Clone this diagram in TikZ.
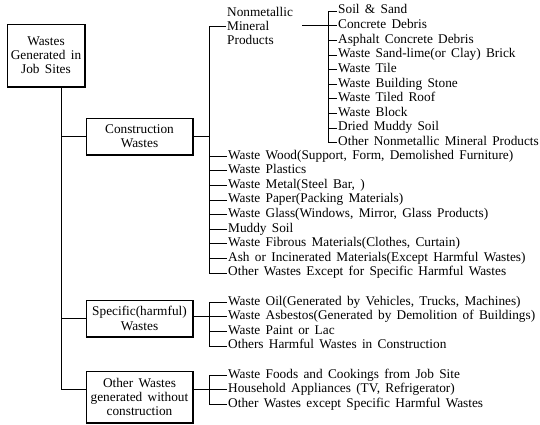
\documentclass[tikz,border=0pt]{standalone}
\usepackage{fontspec}
\setmainfont[WordSpace=1.6]{Liberation Serif}
\usetikzlibrary{positioning}

\begin{document}
\begin{tikzpicture}[x=1pt, y=1pt, font=\fontsize{13.3}{14.2}\selectfont,
  caja/.style={draw, line width=0.5pt, align=center, inner sep=0pt, minimum width=107pt},
  sombra/.style={line width=1.8pt},
  item/.style={inner xsep=1pt, inner ysep=0pt, minimum height=14.22pt, text height=9pt, text depth=3pt},
  linea/.style={line width=0.5pt}]
  \useasboundingbox (0,0) rectangle (540,-425);

  % Caja principal
  \node[caja, minimum width=78pt, minimum height=63pt] (root) at (46,-55.5) {Wastes\\Generated in\\Job Sites};

  % Cajas de segundo nivel
  \node[caja, minimum height=37pt] (cons) at (139.5,-136.5) {Construction\\Wastes};
  \node[caja, minimum height=37pt] (spec) at (139.5,-318.5) {Specific(harmful)\\Wastes};
  \node[caja, minimum height=52pt] (otra) at (139.5,-397) {Other Wastes\\generated without\\construction};

  % Sombras de las cajas
  \draw[sombra] (root.south west) -- (root.south east) -- (root.north east);
  \draw[sombra] (cons.south west) -- (cons.south east) -- (cons.north east);
  \draw[sombra] (spec.south west) -- (spec.south east) -- (spec.north east);
  \draw[sombra] (otra.south west) -- (otra.south east) -- (otra.north east);

  % Productos minerales no metalicos
  \node[anchor=west, align=left, inner sep=1pt] (nm) at (226,-26) {Nonmetallic\\Mineral\\Products};
  \node[item, anchor=west] (suelo) at (337,-11) {Soil \& Sand};
  \node[item, below=0pt of suelo.south west, anchor=north west] (hormigon) {Concrete Debris};
  \node[item, below=0pt of hormigon.south west, anchor=north west] (asfalto) {Asphalt Concrete Debris};
  \node[item, below=0pt of asfalto.south west, anchor=north west] (ladrillo) {Waste Sand-lime(or Clay) Brick};
  \node[item, below=0pt of ladrillo.south west, anchor=north west] (teja) {Waste Tile};
  \node[item, below=0pt of teja.south west, anchor=north west] (piedra) {Waste Building Stone};
  \node[item, below=0pt of piedra.south west, anchor=north west] (tejado) {Waste Tiled Roof};
  \node[item, below=0pt of tejado.south west, anchor=north west] (bloque) {Waste Block};
  \node[item, below=0pt of bloque.south west, anchor=north west] (lodoseco) {Dried Muddy Soil};
  \node[item, below=0pt of lodoseco.south west, anchor=north west] (otrosmin) {Other Nonmetallic Mineral Products};

  % Otros residuos de construccion
  \node[item, anchor=west] (madera) at (227,-156) {Waste Wood(Support, Form, Demolished Furniture)};
  \node[item, below=0pt of madera.south west, anchor=north west] (plastico) {Waste Plastics};
  \node[item, below=0pt of plastico.south west, anchor=north west] (metal) {Waste Metal(Steel Bar, )};
  \node[item, below=0pt of metal.south west, anchor=north west] (papel) {Waste Paper(Packing Materials)};
  \node[item, below=0pt of papel.south west, anchor=north west] (vidrio) {Waste Glass(Windows, Mirror, Glass Products)};
  \node[item, below=0pt of vidrio.south west, anchor=north west] (lodo) {Muddy Soil};
  \node[item, below=0pt of lodo.south west, anchor=north west] (fibra) {Waste Fibrous Materials(Clothes, Curtain)};
  \node[item, below=0pt of fibra.south west, anchor=north west] (ceniza) {Ash or Incinerated Materials(Except Harmful Wastes)};
  \node[item, below=0pt of ceniza.south west, anchor=north west] (otrosc) {Other Wastes Except for Specific Harmful Wastes};

  % Residuos peligrosos
  \node[item, anchor=west] (aceite) at (227,-302) {Waste Oil(Generated by Vehicles, Trucks, Machines)};
  \node[item, below=0pt of aceite.south west, anchor=north west] (asbesto) {Waste Asbestos(Generated by Demolition of Buildings)};
  \node[item, below=0pt of asbesto.south west, anchor=north west] (pintura) {Waste Paint or Lac};
  \node[item, below=0pt of pintura.south west, anchor=north west] (otrosp) {Others Harmful Wastes in Construction};

  % Residuos sin construccion
  \node[item, anchor=west] (comida) at (227,-375) {Waste Foods and Cookings from Job Site};
  \node[item, below=0pt of comida.south west, anchor=north west] (aparatos) {Household Appliances (TV, Refrigerator)};
  \node[item, below=0pt of aparatos.south west, anchor=north west] (otrosn) {Other Wastes except Specific Harmful Wastes};

  % Tronco principal
  \coordinate (tronco) at ([xshift=15pt]root.south);
  \draw[linea] (tronco) |- (otra.west |- aparatos.west);
  \draw[linea] (tronco |- cons.west) -- (cons.west);
  \draw[linea] (tronco |- spec.west) -- (spec.west);

  % Corchete de construccion
  \coordinate (b2) at ([xshift=-18pt]madera.west);
  \draw[linea] (nm.west) -- (nm.west -| b2) |- (otrosc.west);
  \draw[linea] (cons.east) -- (cons.east -| b2);
  \draw[linea] (madera.west) -- (madera.west -| b2);
  \draw[linea] (plastico.west) -- (plastico.west -| b2);
  \draw[linea] (metal.west) -- (metal.west -| b2);
  \draw[linea] (papel.west) -- (papel.west -| b2);
  \draw[linea] (vidrio.west) -- (vidrio.west -| b2);
  \draw[linea] (lodo.west) -- (lodo.west -| b2);
  \draw[linea] (fibra.west) -- (fibra.west -| b2);
  \draw[linea] (ceniza.west) -- (ceniza.west -| b2);

  % Corchete de minerales
  \coordinate (b1) at ([xshift=-9pt]suelo.west);
  \draw[linea] (suelo.west) -- (b1) |- (otrosmin.west);
  \draw[linea, shorten <=8pt] (nm.east |- hormigon.west) -- (hormigon.west);
  \draw[linea] (asfalto.west) -- (asfalto.west -| b1);
  \draw[linea] (ladrillo.west) -- (ladrillo.west -| b1);
  \draw[linea] (teja.west) -- (teja.west -| b1);
  \draw[linea] (piedra.west) -- (piedra.west -| b1);
  \draw[linea] (tejado.west) -- (tejado.west -| b1);
  \draw[linea] (bloque.west) -- (bloque.west -| b1);
  \draw[linea] (lodoseco.west) -- (lodoseco.west -| b1);

  % Corchete de peligrosos
  \coordinate (b3) at ([xshift=-18pt]aceite.west);
  \draw[linea] (aceite.west) -- (b3) |- (otrosp.west);
  \draw[linea] (spec.east |- asbesto.west) -- (asbesto.west);
  \draw[linea] (pintura.west) -- (pintura.west -| b3);

  % Corchete de otros
  \coordinate (b4) at ([xshift=-18pt]comida.west);
  \draw[linea] (comida.west) -- (b4) |- (otrosn.west);
  \draw[linea] (otra.east |- aparatos.west) -- (aparatos.west);
\end{tikzpicture}
\end{document}
